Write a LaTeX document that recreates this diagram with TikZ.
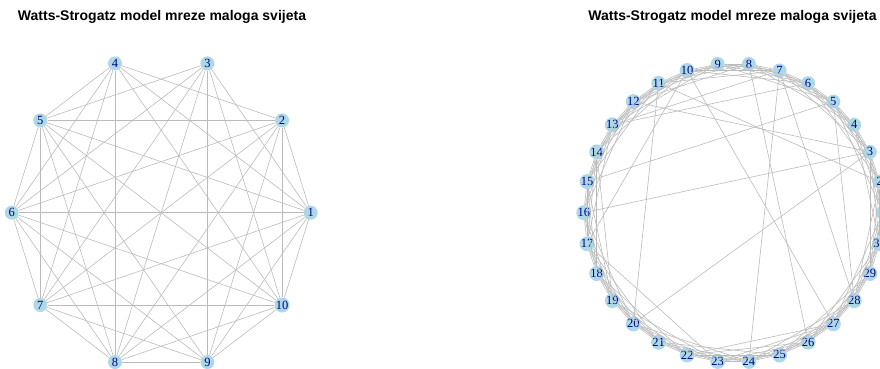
\documentclass[tikz,border=0pt]{standalone}
\usepackage{fontspec}
\setmainfont{Liberation Serif}
\newfontfamily\headfont{Liberation Sans}
\definecolor{vtxfill}{HTML}{ADD8E6}
\definecolor{vtxtext}{HTML}{00008B}
\definecolor{edgegray}{HTML}{BBBBBB}
\begin{document}
\begin{tikzpicture}[x=1pt, y=-1pt,
   vtx/.style={circle, fill=vtxfill, text=vtxtext, inner sep=0pt, minimum size=14pt, font=\fontsize{12.5}{12.5}\selectfont},
   link/.style={draw=edgegray, line width=0.6pt},
   heading/.style={anchor=base, font=\headfont\bfseries\fontsize{14}{14}\selectfont}]
   \useasboundingbox (0,0) rectangle (880,368);
   \node[heading] (T1) at (162,20)   {Watts-Strogatz model mreze maloga svijeta};
   \node[heading] (T2) at (732.5,20) {Watts-Strogatz model mreze maloga svijeta};
   % left graph, 10 vertices
   \node[vtx] (A1)  at (310.7,212.7) {1};
   \node[vtx] (A2)  at (282.1,120.4) {2};
   \node[vtx] (A3)  at (207.4,63.4)  {3};
   \node[vtx] (A4)  at (115.0,63.4)  {4};
   \node[vtx] (A5)  at (40.3,120.4)  {5};
   \node[vtx] (A6)  at (11.7,212.7)  {6};
   \node[vtx] (A7)  at (40.3,305.0)  {7};
   \node[vtx] (A8)  at (115.0,362.0) {8};
   \node[vtx] (A9)  at (207.4,362.0) {9};
   \node[vtx] (A10) at (282.1,305.0) {10};
   \draw[link] (A1) -- (A2);
   \draw[link] (A1) -- (A3);
   \draw[link] (A1) -- (A4);
   \draw[link] (A1) -- (A5);
   \draw[link] (A1) -- (A6);
   \draw[link] (A1) -- (A7);
   \draw[link] (A1) -- (A8);
   \draw[link] (A1) -- (A9);
   \draw[link] (A1) -- (A10);
   \draw[link] (A2) -- (A4);
   \draw[link] (A2) -- (A5);
   \draw[link] (A2) -- (A6);
   \draw[link] (A2) -- (A7);
   \draw[link] (A2) -- (A8);
   \draw[link] (A2) -- (A9);
   \draw[link] (A2) -- (A10);
   \draw[link] (A3) -- (A5);
   \draw[link] (A3) -- (A6);
   \draw[link] (A3) -- (A7);
   \draw[link] (A3) -- (A8);
   \draw[link] (A3) -- (A9);
   \draw[link] (A3) -- (A10);
   \draw[link] (A4) -- (A5);
   \draw[link] (A4) -- (A6);
   \draw[link] (A4) -- (A7);
   \draw[link] (A4) -- (A8);
   \draw[link] (A4) -- (A10);
   \draw[link] (A5) -- (A6);
   \draw[link] (A5) -- (A7);
   \draw[link] (A5) -- (A8);
   \draw[link] (A5) -- (A9);
   \draw[link] (A5) -- (A10);
   \draw[link] (A6) -- (A7);
   \draw[link] (A6) -- (A8);
   \draw[link] (A6) -- (A9);
   \draw[link] (A6) -- (A10);
   \draw[link] (A7) -- (A8);
   \draw[link] (A7) -- (A9);
   \draw[link] (A7) -- (A10);
   \draw[link] (A8) -- (A9);
   \draw[link] (A8) -- (A10);
   \draw[link] (A9) -- (A10);
   % right graph, 30 vertices on a ring
   \foreach \i in {1,...,30}
      \node[vtx] (B\i) at ({733.3+149.5*cos((\i-1)*12)},{212.7-149.5*sin((\i-1)*12)}) {\i};
   \foreach \i in {1,...,30}
      \foreach \k in {1,...,4} {
         \pgfmathtruncatemacro\j{mod(\i+\k-1,30)+1}
         \draw[link] (B\i) -- (B\j);
      }
   % rewired shortcuts
   \foreach \p/\q in {10/27, 10/17, 11/2, 12/3, 11/20, 13/7, 13/6, 15/5, 16/3,
                      20/3, 14/19, 17/23, 8/26, 7/24, 7/28, 5/28, 22/27}
      \draw[link] (B\p) -- (B\q);
\end{tikzpicture}
\end{document}
